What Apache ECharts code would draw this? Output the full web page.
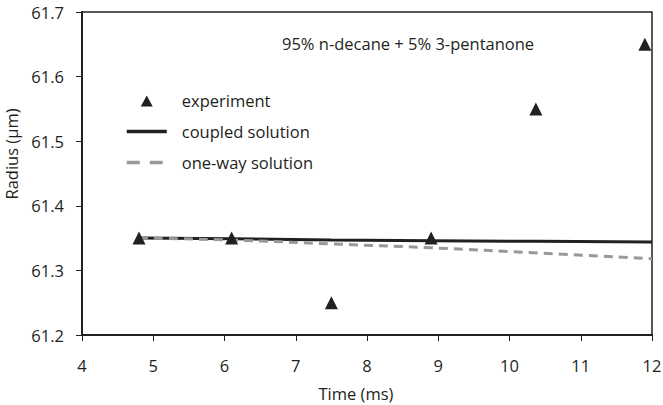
<!DOCTYPE html>
<html>
<head>
<meta charset="utf-8">
<script src="https://cdn.jsdelivr.net/npm/echarts@6.0.0/dist/echarts.min.js"></script>
<style>
  html, body { margin: 0; padding: 0; background: #fff; }
  #chart { width: 663px; height: 405px; }
</style>
</head>
<body>
<div id="chart"></div>
<script>
"use strict";

// values
const expTime = [4.8, 6.1, 7.5, 8.9, 10.37, 11.9];
const expRadius = [61.35, 61.35, 61.25, 61.35, 61.55, 61.65];

const coupledTime = [4.8, 6.1, 7.5, 8.9, 10.4, 12];
const coupledRadius = [61.35, 61.349, 61.347, 61.346, 61.345, 61.344];

const oneWayTime = [4.8, 6.1, 7.5, 8.9, 10.4, 12];
const oneWayRadius = [61.35, 61.347, 61.341, 61.335, 61.327, 61.318];

const INK = "#231f20";
const GREY = "#999999";
const FONT = "'Open Sans', Lato, sans-serif";

const pairs = (xs, ys) => xs.map((x, i) => [x, ys[i]]);

// legend triangle: the spacer points widen the path box to itemWidth x itemHeight
// so the icon is not stretched
const TRIANGLE_ICON = "path://M0,0L0.01,0M40,13L40.01,13M14,12.5L20,1.5L26,12.5Z";
const NO_SYMBOL = { color: "rgba(0,0,0,0)", borderWidth: 0 };

const chart = echarts.init(document.getElementById("chart"), null, { renderer: "svg" });

chart.setOption({
  animation: false,
  textStyle: { fontFamily: FONT, color: INK },
  grid: {
    left: 82, right: 11, top: 12, bottom: 70,
    outerBoundsMode: "none",
    show: true, borderColor: INK, borderWidth: 1.5,
  },
  title: {
    text: "95% n-decane + 5% 3-pentanone",
    left: 282, top: 35, padding: 0,
    textStyle: { fontFamily: FONT, fontSize: 16.5, fontWeight: "normal", color: INK },
  },
  legend: {
    orient: "vertical",
    left: 125, top: 92, padding: 0,
    itemWidth: 40, itemHeight: 13, itemGap: 14,
    textStyle: { fontFamily: FONT, fontSize: 16.5, color: INK, padding: [0, 0, 0, 10] },
    data: [
      { name: "experiment", icon: TRIANGLE_ICON },
      { name: "coupled solution", itemStyle: NO_SYMBOL, lineStyle: { width: 3.5 } },
      { name: "one-way solution", itemStyle: NO_SYMBOL, lineStyle: { width: 3.5, type: [13, 10] } },
    ],
  },
  xAxis: {
    type: "value",
    min: 4, max: 12, interval: 1,
    name: "Time (ms)", nameLocation: "middle", nameGap: 50,
    nameTextStyle: { fontFamily: FONT, fontSize: 16.5, color: INK, padding: [0, 22, 0, 0] },
    axisLine: { onZero: false, lineStyle: { color: INK, width: 2 } },
    axisTick: { inside: false, length: 6, lineStyle: { color: INK } },
    axisLabel: { fontFamily: FONT, fontSize: 16.5, color: INK, margin: 22 },
    splitLine: { show: false },
  },
  yAxis: {
    type: "value",
    min: 61.2, max: 61.7, interval: 0.1,
    name: "Radius (µm)", nameLocation: "middle", nameGap: 57,
    nameTextStyle: { fontFamily: FONT, fontSize: 16.5, color: INK, padding: [0, 0, 0, 39] },
    axisLine: { show: true, onZero: false, lineStyle: { color: INK, width: 2 } },
    axisTick: { show: true, length: 6, lineStyle: { color: INK } },
    axisLabel: { fontFamily: FONT, fontSize: 16.5, color: INK, margin: 18, formatter: (v) => v.toFixed(1) },
    splitLine: { show: false },
  },
  series: [
    {
      name: "one-way solution",
      type: "line",
      data: pairs(oneWayTime, oneWayRadius),
      symbol: "none",
      smooth: true,
      lineStyle: { color: GREY, width: 3, type: [9, 6] },
      itemStyle: { color: GREY },
      z: 2,
    },
    {
      name: "coupled solution",
      type: "line",
      data: pairs(coupledTime, coupledRadius),
      symbol: "none",
      lineStyle: { color: INK, width: 3 },
      itemStyle: { color: INK },
      z: 1,
    },
    {
      name: "experiment",
      type: "scatter",
      data: pairs(expTime, expRadius),
      symbol: "triangle",
      symbolSize: 13,
      itemStyle: { color: INK, opacity: 1 },
      z: 3,
    },
  ],
});
</script>
</body>
</html>
